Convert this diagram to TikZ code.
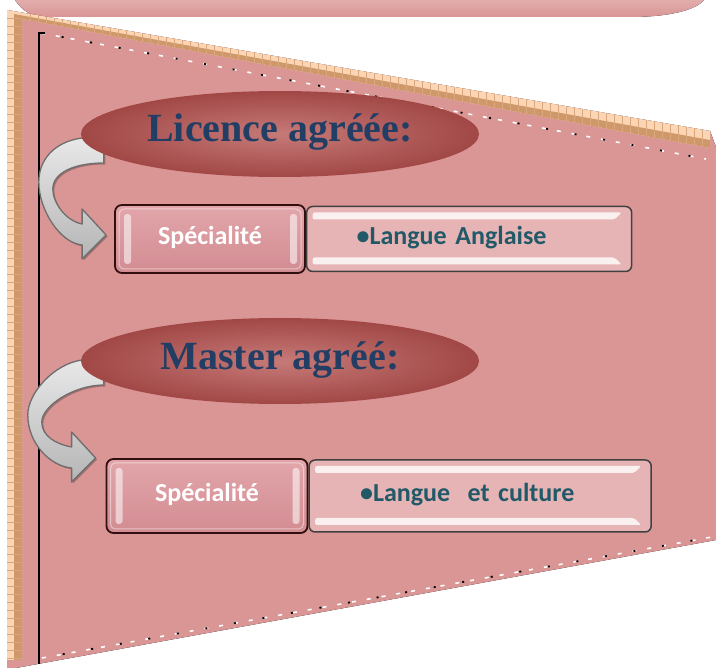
\documentclass[tikz,border=0pt]{standalone}
\usepackage{fontspec}
\setmainfont{Liberation Serif}
\newfontfamily\boxfont{Carlito}
\usetikzlibrary{shapes.geometric,positioning,calc,backgrounds}

\definecolor{panelpink}{RGB}{217,150,149}
\definecolor{panellight}{RGB}{230,182,181}
\definecolor{bannertop}{RGB}{226,172,172}
\definecolor{bandlight}{RGB}{252,214,180}
\definecolor{banddark}{RGB}{196,136,88}
\definecolor{ovaldark}{RGB}{148,54,52}
\definecolor{ovallight}{RGB}{198,122,120}
\definecolor{titleblue}{RGB}{34,62,100}
\definecolor{itemteal}{RGB}{33,89,104}
\definecolor{specedge}{RGB}{50,15,15}
\definecolor{arrowedge}{RGB}{110,110,110}

\pgfdeclareradialshading{ovalglow}{\pgfpoint{0bp}{0bp}}{color(0bp)=(ovallight); color(34bp)=(ovaldark); color(50bp)=(ovaldark)}

\tikzset{
  titleoval/.style={ellipse, shading=ovalglow, minimum width=398pt, minimum height=86pt,
    inner sep=0pt, text=titleblue, font=\fontsize{40}{44}\selectfont\bfseries,
    text height=27pt, text depth=11pt},
  specbox/.style={rectangle, rounded corners=7pt, draw=specedge, line width=1.8pt,
    top color={rgb,255:red,226;green,166;blue,170}, bottom color={rgb,255:red,210;green,140;blue,146},
    text=white, font=\boxfont\fontsize{26}{30}\selectfont\bfseries,
    text height=17pt, text depth=5pt, inner sep=0pt,
    path picture={
      \fill[white, opacity=.55, rounded corners=3pt]
        ([xshift=9pt,yshift=-9pt]path picture bounding box.north west) rectangle
        ([xshift=16pt,yshift=9pt]path picture bounding box.south west);
      \fill[white, opacity=.55, rounded corners=3pt]
        ([xshift=-15pt,yshift=-9pt]path picture bounding box.north east) rectangle
        ([xshift=-8pt,yshift=9pt]path picture bounding box.south east);
      \draw[white, opacity=.45, line width=1pt, rounded corners=5pt]
        ([shift={(4pt,-4pt)}]path picture bounding box.north west) rectangle
        ([shift={(-4pt,4pt)}]path picture bounding box.south east);
    }},
  itembox/.style={rectangle, rounded corners=6pt, draw=black!75, line width=1.5pt,
    fill={rgb,255:red,230;green,180;blue,180}, text=itemteal,
    font=\boxfont\fontsize{26}{30}\selectfont\bfseries, align=left,
    inner xsep=5pt, inner ysep=0pt, text height=17pt, text depth=6pt,
    path picture={
      \fill[white, opacity=.8, rounded corners=2pt]
        ([xshift=6pt,yshift=-6pt]path picture bounding box.north west) --
        ([xshift=-10pt,yshift=-6pt]path picture bounding box.north east) --
        ([xshift=-17pt,yshift=-13pt]path picture bounding box.north east) --
        ([xshift=6pt,yshift=-13pt]path picture bounding box.north west) -- cycle;
      \fill[white, opacity=.8, rounded corners=2pt]
        ([xshift=6pt,yshift=7pt]path picture bounding box.south west) --
        ([xshift=-10pt,yshift=7pt]path picture bounding box.south east) --
        ([xshift=-17pt,yshift=14pt]path picture bounding box.south east) --
        ([xshift=6pt,yshift=14pt]path picture bounding box.south west) -- cycle;
    }},
  curlfill/.style={top color=gray!18, bottom color=gray!58, draw=arrowedge,
    line width=1.3pt, line join=round},
  dotwhite/.style={white, line width=1.6pt, dash pattern=on 4pt off 11pt},
  dotblack/.style={black, line width=1.8pt, dash pattern=on 2pt off 27pt, dash phase=8pt}
}

% curved block arrow: #1 outer start, #2 tip, #3 reach to the left
\newcommand\curlarrow[3]{%
  \path[curlfill, preaction={fill=black, opacity=.25, transform canvas={shift={(1.5pt,-1.5pt)}}}]
    (#1) .. controls +(-28,4) and +(0,-22) .. ($(#1)+(-#3,#3+1)$)
    .. controls +(0,28) and +(-22,-2) .. ($(#2)+(-24,10)$)
    -- ($(#2)+(-24,24)$) -- (#2) -- ($(#2)+(-24,-26)$) -- ($(#2)+(-24,-11)$)
    .. controls +(-16,-3) and +(0,14) .. ($(#1)+(-#3+14,#3+8)$)
    .. controls +(0,-16) and +(-30,0) .. ($(#1)+(22,25)$)
    -- ($(#1)+(22,0)$) -- cycle;
}

\begin{document}
\begin{tikzpicture}[x=1pt, y=-1pt]
  \useasboundingbox (0,0) rectangle (716,668);

  % licence
  \node[titleoval] (lic) at (280,134) {Licence agréée:};
  \node[specbox, minimum width=190pt, minimum height=68pt] (spec1) at (210,239) {Spécialité};
  \node[itembox, right=0pt of spec1, text width=315pt, minimum height=65pt] (item1)
    {\hspace*{45pt}•Langue Anglaise};

  % master
  \node[titleoval, text depth=10pt] (mas) at (280,361) {Master agréé:};
  \node[specbox, minimum width=201pt, minimum height=74pt] (spec2) at (207,496) {Spécialité};
  \node[itembox, right=0pt of spec2, text width=332pt, minimum height=72pt, text depth=5pt] (item2)
    {\hspace*{46pt}•Langue~ et culture};

  \begin{scope}[on background layer]
    \fill[white] (0,0) rectangle (716,668);
    % banner
    \fill[top color=bannertop, bottom color=panelpink]
      (15,0) .. controls (22,10) and (30,17) .. (48,17) -- (630,17)
      .. controls (675,17) and (698,8) .. (704,0) -- cycle;
    % panel
    \fill[left color=panelpink, middle color=panellight, right color=panelpink]
      (7,10) -- (710,131) -- (716,147) -- (716,540) -- (16,668) -- (7,668) -- cycle;
    % frame band
    \fill[bandlight] (7,10) -- (710,131) -- (710,148) -- (22,19) -- (22,660) -- (7,660) -- cycle;
    \fill[banddark!80!bandlight] (14,14) -- (710,140) -- (710,148) -- (22,19) -- (22,660) -- (14,660) -- cycle;
    \foreach \y in {18,26,...,658}
      \draw[banddark!60!bandlight, line width=.6pt] (7,\y) -- (22,\y);
    \foreach \x in {30,38,...,706}
      \draw[banddark!60!bandlight, line width=.6pt] (\x,{10+(\x-7)*0.1721}) -- (\x,{19+(\x-22)*0.1875});
    % dotted edges
    \draw[dotwhite] (41,33) -- (706,159);
    \draw[dotblack] (41,33) -- (706,159);
    \draw[dotwhite] (42,658) -- (712,537);
    \draw[dotblack] (42,658) -- (712,537);
    \draw[line width=1.4pt] (45,33) -- (39,33) -- (39,664);
    % arrows
    \curlarrow{$(lic.west)+(1,4)$}{$(spec1.west)+(-8,-4)$}{43}
    \curlarrow{$(mas.west)+(1,-1)$}{$(spec2.west)+(-10,-38)$}{54}
  \end{scope}
\end{tikzpicture}
\end{document}
